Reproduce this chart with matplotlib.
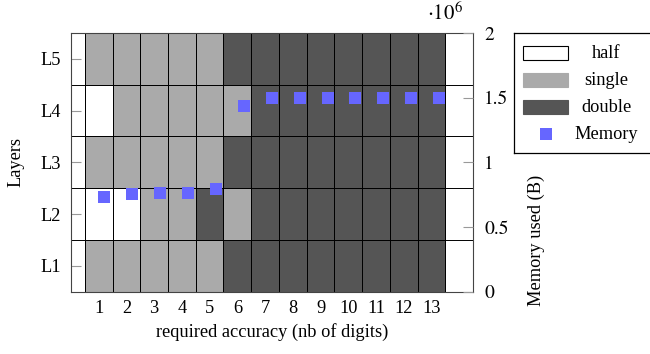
import numpy as np
import matplotlib
matplotlib.use("Agg")
import matplotlib.pyplot as plt
from matplotlib.colors import ListedColormap
from matplotlib.patches import Rectangle
from matplotlib.ticker import FuncFormatter


##############################################################################
# Data

ACCURACY = list(range(1, 14))
LAYERS = ["L1", "L2", "L3", "L4", "L5"]

# precision per layer and accuracy: 0 = half, 1 = single, 2 = double
PREC_L1 = [1, 1, 1, 1, 1, 2, 2, 2, 2, 2, 2, 2, 2]
PREC_L2 = [0, 0, 1, 1, 2, 1, 2, 2, 2, 2, 2, 2, 2]
PREC_L3 = [1, 1, 1, 1, 1, 2, 2, 2, 2, 2, 2, 2, 2]
PREC_L4 = [0, 1, 1, 1, 1, 1, 2, 2, 2, 2, 2, 2, 2]
PREC_L5 = [1, 1, 1, 1, 1, 2, 2, 2, 2, 2, 2, 2, 2]

# memory used in bytes
MEMORY = [0.73e6, 0.753e6, 0.765e6, 0.765e6, 0.794e6, 1.433e6,
          1.5e6, 1.5e6, 1.5e6, 1.5e6, 1.5e6, 1.5e6, 1.5e6]

PREC_NAMES = ["half", "single", "double"]
PREC_COLORS = ["#ffffff", "#aaaaaa", "#555555"]
MEM_COLOR = "#6666ff"


##############################################################################
# Style

plt.rcParams["font.family"] = ["Liberation Serif", "DejaVu Serif"]
plt.rcParams["mathtext.fontset"] = "stix"
plt.rcParams["font.size"] = 13.2

fig = plt.figure(figsize=(6.5, 3.54), dpi=100)
pos = [71 / 650, 62.3 / 354, 402 / 650, 258.7 / 354]


##############################################################################
# Precision grid

ax = fig.add_axes(pos)
grid = np.array([PREC_L1, PREC_L2, PREC_L3, PREC_L4, PREC_L5])
x_edges = np.arange(len(ACCURACY) + 1) + 0.5
y_edges = np.arange(len(LAYERS) + 1) + 0.5
ax.pcolormesh(x_edges, y_edges, grid, cmap=ListedColormap(PREC_COLORS),
              vmin=-0.5, vmax=2.5, edgecolors="black", linewidth=0.6)
for yb in y_edges[1:-1]:
    ax.axhline(yb, color="black", lw=0.7)

ax.set_xlim(0, 14.5)
ax.set_ylim(0.5, 5.5)
ax.set_xticks(ACCURACY)
ax.set_yticks(range(1, len(LAYERS) + 1))
ax.set_yticklabels(LAYERS)
ax.tick_params(axis="x", length=0, pad=6)
ax.tick_params(axis="y", direction="in", length=7, color="#999999", pad=7)
ax.set_xlabel("required accuracy (nb of digits)", labelpad=4)
ax.set_ylabel("Layers", labelpad=12)
for sp in ax.spines.values():
    sp.set_linewidth(0.8)
    sp.set_color("#444444")


##############################################################################
# Memory on its own axis

ax2 = fig.add_axes(pos)
ax2.patch.set_visible(False)
ax2.scatter(ACCURACY, MEMORY, marker="s", s=76, color=MEM_COLOR,
            linewidths=0, zorder=5)
ax2.set_xlim(-0.19, 14.21)
ax2.set_ylim(0, 2e6)
ax2.set_xticks([])
ax2.yaxis.tick_right()
ax2.set_yticks([0, 0.5e6, 1e6, 1.5e6, 2e6])
ax2.yaxis.set_major_formatter(FuncFormatter(lambda v, p: "%g" % (v / 1e6)))
ax2.tick_params(axis="y", direction="in", length=7, color="#999999", pad=8,
                labelsize=14)
for t in ax2.get_yticklabels():
    t.set_fontfamily("STIXGeneral")
for sp in ax2.spines.values():
    sp.set_visible(False)
ax2.text(0.975, 1.03, r"$\cdot10^{6}$", transform=ax2.transAxes,
         ha="right", va="bottom", fontsize=15)
ax2.text(1.158, 0.2, "Memory used (B)", transform=ax2.transAxes,
         rotation=90, ha="center", va="center")


##############################################################################
# Legend box

lax = fig.add_axes([514 / 650, 201 / 354, 240 / 650, 120 / 354])
lax.set_xlim(0, 240 / 186)
lax.set_ylim(0, 1)
lax.set_xticks([])
lax.set_yticks([])
for sp in lax.spines.values():
    sp.set_linewidth(0.9)
rows = [0.833, 0.608, 0.383, 0.158]
for name, color, yr in zip(PREC_NAMES, PREC_COLORS, rows):
    lax.add_patch(Rectangle((0.047, yr - 0.062), 0.245, 0.124,
                            facecolor=color,
                            edgecolor="black" if color == "#ffffff" else color,
                            lw=0.8))
    lax.text(0.495, yr, name, ha="center", va="center")
lax.plot([0.17], [rows[3]], "s", color=MEM_COLOR, markersize=8.6,
         markeredgewidth=0)
lax.text(0.495, rows[3], "Memory", ha="center", va="center")

fig.savefig("out.png", dpi=100)
